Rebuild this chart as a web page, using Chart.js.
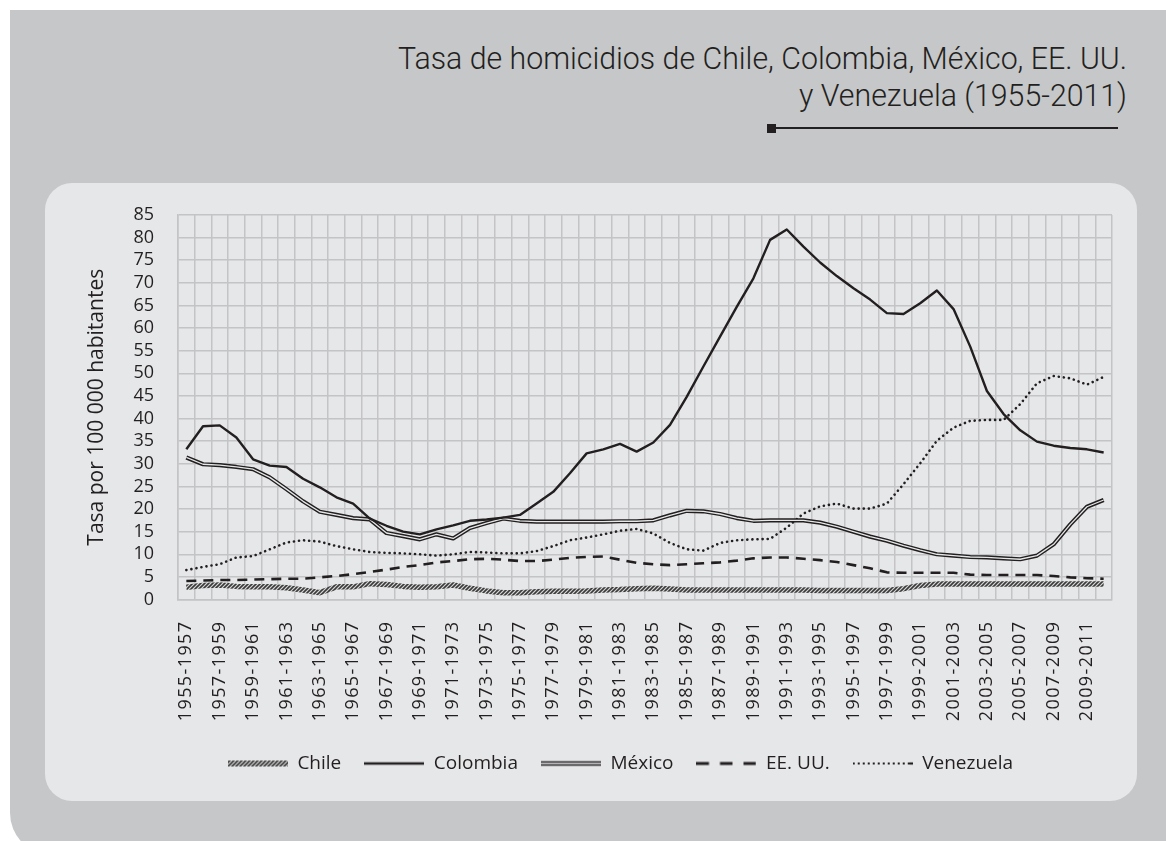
<!DOCTYPE html>
<html><head><meta charset="utf-8">
<script src="https://cdn.jsdelivr.net/npm/chart.js@4.4.1/dist/chart.umd.min.js"></script>
<style>
html,body{margin:0;padding:0;background:#fff;width:1166px;height:841px;overflow:hidden;position:relative}
#outer{position:absolute;left:10px;top:10px;width:1170px;height:845px;background:#c6c7c9;border-bottom-left-radius:42px}
#inner{position:absolute;left:45px;top:183px;width:1092px;height:618px;background:#e6e7e8;border-radius:27px}
#title{position:absolute;right:39px;top:40px;text-align:right;font-family:Roboto,'Liberation Sans',sans-serif;font-weight:300;font-size:31px;line-height:37px;color:#231f20;transform-origin:right top;white-space:nowrap}
#rule{position:absolute;left:776px;top:127px;width:342px;height:2px;background:#231f20}
#sq{position:absolute;left:767px;top:124px;width:9px;height:9px;background:#231f20}
#c{position:absolute;left:0;top:0;width:1166px;height:841px}
</style></head>
<body>
<div id="outer"></div><div id="inner"></div>
<div id="title"><span id="t1">Tasa de homicidios de Chile, Colombia, México, EE. UU.</span><br><span>y Venezuela (1955-2011)</span></div>
<div id="rule"></div><div id="sq"></div>
<canvas id="c" width="1166" height="841"></canvas>
<script>
const categories = ["1955-1957","1956-1958","1957-1959","1958-1960","1959-1961","1960-1962","1961-1963","1962-1964","1963-1965","1964-1966","1965-1967","1966-1968","1967-1969","1968-1970","1969-1971","1970-1972","1971-1973","1972-1974","1973-1975","1974-1976","1975-1977","1976-1978","1977-1979","1978-1980","1979-1981","1980-1982","1981-1983","1982-1984","1983-1985","1984-1986","1985-1987","1986-1988","1987-1989","1988-1990","1989-1991","1990-1992","1991-1993","1992-1994","1993-1995","1994-1996","1995-1997","1996-1998","1997-1999","1998-2000","1999-2001","2000-2002","2001-2003","2002-2004","2003-2005","2004-2006","2005-2007","2006-2008","2007-2009","2008-2010","2009-2011","2010-2012"];
const chile = [2.7,3.1,3.2,2.9,2.8,2.8,2.6,2.1,1.5,2.8,2.8,3.5,3.3,2.9,2.7,2.8,3.2,2.5,1.9,1.5,1.5,1.7,1.8,1.8,1.9,2.1,2.2,2.4,2.5,2.3,2.1,2.1,2.1,2.1,2.1,2.1,2.1,2.1,2.0,2.0,2.0,2.0,2.0,2.4,3.1,3.4,3.4,3.4,3.4,3.4,3.4,3.4,3.4,3.4,3.4,3.4];
const colombia = [33.2,38.3,38.5,35.8,31.0,29.6,29.3,26.7,24.8,22.6,21.2,17.9,16.3,15.0,14.4,15.5,16.4,17.4,17.7,18.1,18.7,21.2,23.8,27.9,32.3,33.2,34.4,32.7,34.7,38.6,44.8,51.5,58.1,64.7,71.0,79.5,81.8,78.0,74.5,71.5,68.8,66.3,63.3,63.1,65.5,68.3,64.2,55.9,46.1,41.0,37.4,34.9,34.0,33.5,33.2,32.5];
const mexico = [31.4,29.9,29.7,29.3,28.8,27.0,24.4,21.7,19.4,18.7,18.0,17.7,14.7,14.0,13.3,14.4,13.5,15.8,16.9,17.9,17.4,17.2,17.2,17.2,17.2,17.2,17.3,17.3,17.5,18.6,19.6,19.5,18.9,18.0,17.4,17.5,17.5,17.5,17.0,16.1,15.0,13.9,13.0,11.9,10.9,10.0,9.7,9.4,9.3,9.1,8.9,9.7,12.2,16.6,20.5,22.0];
const eeuu = [4.1,4.2,4.3,4.3,4.4,4.5,4.6,4.6,4.9,5.2,5.6,6.1,6.6,7.2,7.6,8.2,8.5,8.9,9.0,8.8,8.5,8.5,8.8,9.2,9.4,9.5,8.8,8.1,7.8,7.6,7.8,8.0,8.2,8.6,9.1,9.3,9.3,9.0,8.7,8.3,7.6,6.9,6.0,5.9,5.9,5.9,5.9,5.5,5.4,5.4,5.4,5.4,5.2,4.9,4.7,4.6];
const venezuela = [6.5,7.2,7.8,9.3,9.6,11.1,12.6,13.1,12.8,11.8,11.1,10.5,10.3,10.2,10.0,9.7,10.0,10.5,10.4,10.2,10.2,10.7,11.8,13.1,13.7,14.4,15.2,15.6,14.6,12.5,11.1,10.8,12.5,13.1,13.3,13.4,15.9,19.0,20.6,21.2,20.1,20.1,21.2,25.5,30.1,35.1,38.0,39.5,39.7,39.7,43.2,47.8,49.4,48.9,47.5,49.2];
const legendNames = ["Chile","Colombia","México","EE. UU.","Venezuela"];
const yTitle = "Tasa por 100 000 habitantes";

(function(){
  const t = document.getElementById('title');
  const w = document.getElementById('t1').getBoundingClientRect().width;
  t.style.transform = 'scaleX(' + (729 / w) + ')';
})();

const DARK = '#231f20';
const GRID = '#c3c4c6';

function hatch(){
  const p = document.createElement('canvas'); p.width = 4; p.height = 4;
  const g = p.getContext('2d');
  g.fillStyle = '#d6d6d6'; g.fillRect(0,0,4,4);
  g.strokeStyle = '#3a3a3a'; g.lineWidth = 1.6;
  g.beginPath();
  g.moveTo(0,4); g.lineTo(4,0);
  g.moveTo(-1,1); g.lineTo(1,-1);
  g.moveTo(3,5); g.lineTo(5,3);
  g.stroke();
  return p;
}
const hatchCanvas = hatch();
const ctx0 = document.getElementById('c').getContext('2d');
const hatchPattern = ctx0.createPattern(hatchCanvas, 'repeat');

function sym(kind){
  const c = document.createElement('canvas'); c.width = 60; c.height = 10;
  const g = c.getContext('2d');
  g.strokeStyle = DARK;
  if (kind === 0){
    g.fillStyle = g.createPattern(hatchCanvas,'repeat');
    g.fillRect(0,2,60,6);
  } else if (kind === 1){
    g.lineWidth = 2.4; g.beginPath(); g.moveTo(0,5); g.lineTo(60,5); g.stroke();
  } else if (kind === 2){
    g.lineWidth = 4.4; g.beginPath(); g.moveTo(0,5); g.lineTo(60,5); g.stroke();
    g.strokeStyle = '#e6e7e8'; g.lineWidth = 1.4; g.beginPath(); g.moveTo(0,5); g.lineTo(60,5); g.stroke();
  } else if (kind === 3){
    g.lineWidth = 3; g.setLineDash([12.5,11]); g.beginPath(); g.moveTo(0,5); g.lineTo(60,5); g.stroke();
  } else {
    g.lineWidth = 2.2; g.setLineDash([2,3]); g.beginPath(); g.moveTo(0,5); g.lineTo(58,5); g.stroke();
    g.setLineDash([]); g.beginPath(); g.moveTo(57,5); g.lineTo(61,5); g.stroke();
  }
  return c;
}
const legendImgs = [0,1,2,3,4].map(sym);

const base = {pointRadius:0, pointHoverRadius:0, tension:0, fill:false, borderJoinStyle:'round'};
const datasets = [
  Object.assign({label:'Chile', data:chile, borderColor:hatchPattern, borderWidth:5.5, order:6}, base),
  Object.assign({label:'Colombia', data:colombia, borderColor:DARK, borderWidth:2.4, order:1}, base),
  Object.assign({label:'México', data:mexico, borderColor:DARK, borderWidth:4.2, order:3}, base),
  Object.assign({label:'México-in', data:mexico, borderColor:'#e6e7e8', borderWidth:1.3, order:2}, base),
  Object.assign({label:'EE. UU.', data:eeuu, borderColor:DARK, borderWidth:2.6, borderDash:[10,7], order:5}, base),
  Object.assign({label:'Venezuela', data:venezuela, borderColor:DARK, borderWidth:2.6, borderDash:[0.1,5], borderCapStyle:'round', order:4}, base)
];

const spacing = {
  id:'spacing',
  afterDatasetsDraw(c){ c.ctx.letterSpacing = '1.4px'; },
  afterDraw(c){ c.ctx.letterSpacing = '0px'; }
};

new Chart(document.getElementById('c'), {
  type:'line',
  data:{labels:categories, datasets},
  options:{
    responsive:false, animation:false, devicePixelRatio:1,
    layout:{padding:{left:129, right:54, top:215, bottom:58}},
    plugins:{
      legend:{position:'bottom', align:'center',
        labels:{usePointStyle:true, pointStyleWidth:60, padding:23, color:DARK,
          font:{family:'Open Sans', size:19},
          generateLabels:()=>legendNames.map((n,i)=>({text:n, pointStyle:legendImgs[i], fillStyle:'rgba(0,0,0,0)', strokeStyle:'rgba(0,0,0,0)', lineWidth:0, hidden:false, fontColor:DARK, datasetIndex:i}))
        },
        onClick:()=>{}
      },
      tooltip:{enabled:false}
    },
    scales:{
      x:{type:'category', offset:true,
        grid:{offset:true, color:GRID, lineWidth:1.5, drawTicks:false},
        border:{display:true, color:GRID, width:1.5},
        ticks:{autoSkip:false, maxRotation:90, minRotation:90, padding:21, z:1, color:DARK,
          font:{family:'Open Sans', size:18},
          callback:(v,i)=> i%2===0 ? categories[i] : ''},
        afterFit:(s)=>{ s.height = 131.5; }
      },
      y:{min:0, max:85,
        grid:{color:GRID, lineWidth:1.5, drawTicks:false},
        border:{display:true, color:GRID, width:1.5},
        ticks:{stepSize:5, autoSkip:false, padding:24, color:DARK, font:{family:'Open Sans', size:18}},
        title:{display:true, text:yTitle, color:DARK, font:{family:'Open Sans', size:21}, padding:{top:-45, bottom:0}},
        afterFit:(s)=>{ s.width = 49; }
      }
    }
  },
  plugins:[spacing]
});
</script>
</body></html>
